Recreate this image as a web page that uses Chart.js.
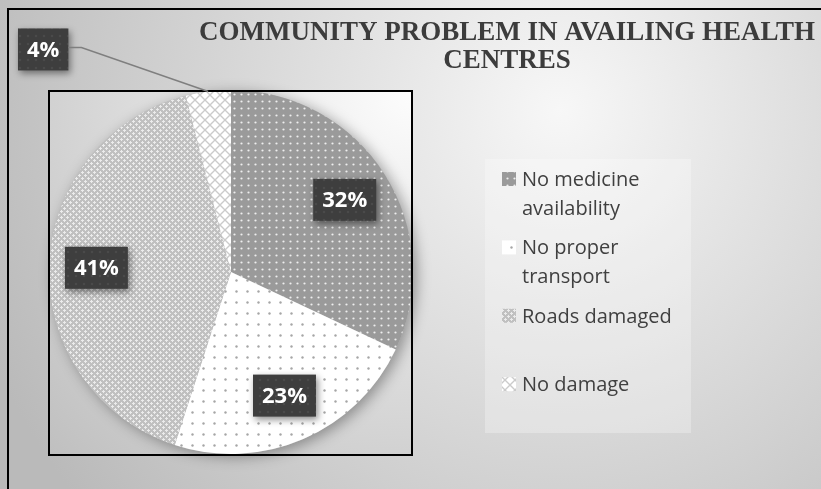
<!DOCTYPE html>
<html>
<head>
<meta charset="utf-8">
<title>Community problem in availing health centres</title>
<script src="https://cdn.jsdelivr.net/npm/chart.js@4.4.1/dist/chart.umd.min.js"></script>
<style>
  html, body { margin: 0; padding: 0; background: #d0d0d0; }
  canvas { display: block; }
</style>
</head>
<body>
<canvas id="chart" width="821" height="489"></canvas>
<script>
// answers of the community, share in percent
const categories = ['No medicine availability', 'No proper transport', 'Roads damaged', 'No damage'];
const shares = [32, 23, 41, 4];
const titleLines = ['COMMUNITY PROBLEM IN AVAILING HEALTH', 'CENTRES'];

// small tiles used to fill the slices
function makePattern(w, h, paint) {
  const c = document.createElement('canvas');
  c.width = w;
  c.height = h;
  const g = c.getContext('2d');
  paint(g, w, h);
  return g.createPattern(c, 'repeat');
}

const dotsOnGrey = makePattern(7, 7, (g) => {
  g.fillStyle = '#9a9a9a';
  g.fillRect(0, 0, 7, 7);
  g.fillStyle = '#eeeeee';
  g.beginPath();
  g.arc(3.5, 3.5, 1.1, 0, Math.PI * 2);
  g.fill();
});

const dotsOnWhite = makePattern(11, 11, (g) => {
  g.fillStyle = '#ffffff';
  g.fillRect(0, 0, 11, 11);
  g.fillStyle = '#a6a6a6';
  g.beginPath();
  g.arc(5.5, 5.5, 1.2, 0, Math.PI * 2);
  g.fill();
});

const plusGrid = makePattern(6, 6, (g) => {
  g.fillStyle = '#c0c0c0';
  g.fillRect(0, 0, 6, 6);
  g.fillStyle = '#ebebeb';
  [[1, 1], [4, 4]].forEach(([x, y]) => {
    g.fillRect(x - 1, y, 3, 1);
    g.fillRect(x, y - 1, 1, 3);
  });
});

const lattice = makePattern(10, 10, (g) => {
  g.fillStyle = '#ffffff';
  g.fillRect(0, 0, 10, 10);
  g.strokeStyle = '#cbcbcb';
  g.lineWidth = 1.4;
  g.beginPath();
  g.moveTo(0, 5); g.lineTo(5, 0); g.lineTo(10, 5); g.lineTo(5, 10); g.closePath();
  g.stroke();
});

const boxDots = makePattern(8, 8, (g) => {
  g.fillStyle = '#3e3e3e';
  g.fillRect(0, 0, 8, 8);
  g.fillStyle = '#4a4a4a';
  g.beginPath();
  g.arc(4, 4, 1.3, 0, Math.PI * 2);
  g.fill();
});

const fills = [dotsOnGrey, dotsOnWhite, plusGrid, lattice];

// wrap legend text on words
function wrap(ctx, text, maxW) {
  const words = text.split(' ');
  const lines = [];
  let cur = '';
  words.forEach(w => {
    const t = cur ? cur + ' ' + w : w;
    if (cur && ctx.measureText(t).width > maxW) {
      lines.push(cur);
      cur = w;
    } else {
      cur = t;
    }
  });
  lines.push(cur);
  return lines;
}

function labelBox(ctx, text, cx, cy) {
  ctx.font = 'bold 22px "Open Sans"';
  const w = ctx.measureText(text).width + 18;
  const h = 42;
  ctx.save();
  ctx.shadowColor = 'rgba(0,0,0,0.45)';
  ctx.shadowBlur = 7;
  ctx.shadowOffsetX = 2;
  ctx.shadowOffsetY = 3;
  ctx.fillStyle = boxDots;
  ctx.fillRect(cx - w / 2, cy - h / 2, w, h);
  ctx.restore();
  ctx.fillStyle = '#ffffff';
  ctx.textAlign = 'center';
  ctx.textBaseline = 'middle';
  ctx.fillText(text, cx, cy + 1);
  return { left: cx - w / 2, right: cx + w / 2, top: cy - h / 2, bottom: cy + h / 2 };
}

const decor = {
  id: 'decor',
  beforeDraw(chart) {
    const { ctx, width, height, chartArea: a } = chart;
    ctx.save();
    const bg = ctx.createRadialGradient(560, 110, 0, 560, 110, 620);
    bg.addColorStop(0, '#f7f7f7');
    bg.addColorStop(1, '#bababa');
    ctx.fillStyle = bg;
    ctx.fillRect(0, 0, width, height);

    // lighter plot area
    const inner = ctx.createRadialGradient(a.right, a.top, 0, a.right, a.top, 520);
    inner.addColorStop(0, '#fdfdfd');
    inner.addColorStop(1, '#bfbfbf');
    ctx.fillStyle = inner;
    ctx.fillRect(a.left, a.top, a.width, a.height);

    // outer frame
    ctx.strokeStyle = '#000';
    ctx.lineWidth = 2;
    ctx.strokeRect(8, 9, width + 20, height + 20);

    // title
    ctx.fillStyle = '#3c3c3c';
    ctx.font = 'bold 27px "Liberation Serif"';
    ctx.textAlign = 'center';
    ctx.textBaseline = 'alphabetic';
    titleLines.forEach((t, i) => ctx.fillText(t, 507, 40 + i * 28));

    // legend
    const lx = 485, ly = 159, lw = 206, lh = 274;
    ctx.fillStyle = 'rgba(255,255,255,0.28)';
    ctx.fillRect(lx, ly, lw, lh);
    ctx.font = '20px "Open Sans"';
    ctx.textAlign = 'left';
    categories.forEach((name, i) => {
      const base = 186 + i * 68.4;
      ctx.fillStyle = fills[i];
      ctx.fillRect(502, base - 14, 14, 14);
      ctx.fillStyle = '#404040';
      wrap(ctx, name, 160).forEach((line, j) => ctx.fillText(line, 522, base + j * 29));
    });
    ctx.restore();
  },
  beforeDatasetsDraw(chart) {
    const arc = chart.getDatasetMeta(0).data[0];
    if (!arc) return;
    const { ctx } = chart;
    ctx.save();
    ctx.shadowColor = 'rgba(0,0,0,0.35)';
    ctx.shadowBlur = 14;
    ctx.shadowOffsetX = 4;
    ctx.shadowOffsetY = 3;
    ctx.fillStyle = '#bbbbbb';
    ctx.beginPath();
    ctx.arc(arc.x, arc.y, arc.outerRadius, 0, Math.PI * 2);
    ctx.fill();
    ctx.restore();
  },
  afterDatasetsDraw(chart) {
    const { ctx, chartArea: a } = chart;
    ctx.save();
    ctx.strokeStyle = '#000';
    ctx.lineWidth = 2;
    ctx.strokeRect(a.left, a.top + 1, a.width - 1, a.height);

    chart.getDatasetMeta(0).data.forEach((el, i) => {
      const mid = (el.startAngle + el.endAngle) / 2;
      const r = el.outerRadius;
      const text = shares[i] + '%';
      if (shares[i] >= 10) {
        labelBox(ctx, text, el.x + Math.cos(mid) * r * 0.74, el.y + Math.sin(mid) * r * 0.74);
      } else {
        // small slice: callout outside with a leader line
        const ax = el.x + Math.cos(mid) * r;
        const ay = el.y + Math.sin(mid) * r;
        const b = labelBox(ctx, text, ax - 165, ay - 42);
        const ly = (b.top + b.bottom) / 2 - 2;
        ctx.strokeStyle = '#7f7f7f';
        ctx.lineWidth = 1.5;
        ctx.beginPath();
        ctx.moveTo(b.right, ly);
        ctx.lineTo(b.right + 13, ly);
        ctx.lineTo(ax, ay);
        ctx.stroke();
      }
    });
    ctx.restore();
  }
};

const ctx = document.getElementById('chart').getContext('2d');
const chart = new Chart(ctx, {
  type: 'pie',
  data: {
    labels: categories,
    datasets: [{
      data: shares,
      backgroundColor: fills,
      borderWidth: 0
    }]
  },
  options: {
    responsive: false,
    animation: false,
    layout: { padding: { left: 49, top: 90, right: 408, bottom: 35 } },
    plugins: {
      legend: { display: false },
      title: { display: false },
      tooltip: { enabled: false }
    }
  },
  plugins: [decor]
});
</script>
</body>
</html>
